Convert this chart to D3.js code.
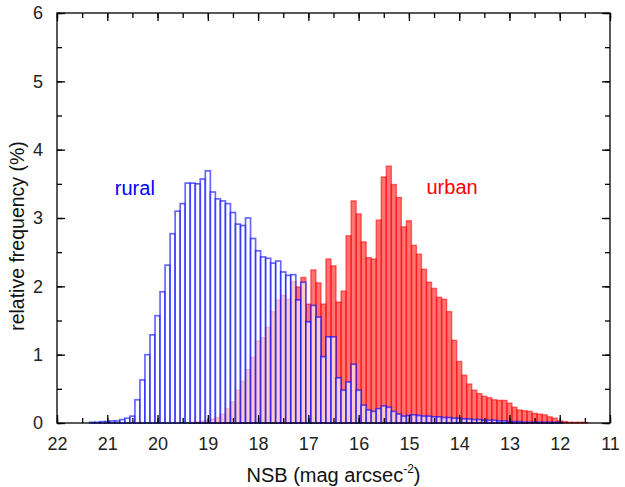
<!DOCTYPE html>
<html>
<head>
<meta charset="utf-8">
<script src="https://cdn.jsdelivr.net/npm/d3@7"></script>
<style>
  html, body { margin: 0; padding: 0; background: #fff; }
  svg { display: block; font-family: "Liberation Sans", Arial, sans-serif; }
</style>
</head>
<body>
<svg id="chart" width="625" height="487"></svg>
<script>
// NSB bin centres (mag arcsec^-2) and relative frequency (%)
const ruralBins = [21.3,21.2,21.1,21.0,20.9,20.8,20.7,20.6,20.5,20.4,20.3,20.2,20.1,20.0,
  19.9,19.8,19.7,19.6,19.5,19.4,19.3,19.2,19.1,19.0,18.9,18.8,18.7,18.6,18.5,18.4,18.3,18.2,18.1,18.0,
  17.9,17.8,17.7,17.6,17.5,17.4,17.3,17.2,17.1,17.0,16.9,16.8,16.7,16.6,16.5,16.4,16.3,16.2,16.1,16.0,
  15.9,15.8,15.7,15.6,15.5,15.4,15.3,15.2,15.1,15.0,14.9,14.8,14.7,14.6,14.5,14.4,14.3,14.2,14.1,14.0,
  13.9,13.8,13.7,13.6,13.5,13.4,13.3,13.2,13.1,13.0,12.9,12.8,12.7,12.6,12.5,12.4,12.3,12.2,12.1,12.0];
const ruralValues = [0.01,0.01,0.02,0.02,0.03,0.03,0.05,0.07,0.10,0.34,0.63,1.00,1.29,1.57,
  1.92,2.31,2.77,3.10,3.21,3.51,3.51,3.50,3.57,3.69,3.38,3.28,3.25,3.21,3.08,2.91,2.89,3.00,2.70,2.52,
  2.43,2.41,2.34,2.37,2.21,2.16,2.17,1.80,2.06,1.48,1.72,1.55,0.97,1.26,1.26,0.66,0.48,0.60,0.86,0.48,
  0.26,0.19,0.17,0.21,0.25,0.23,0.17,0.13,0.10,0.11,0.12,0.11,0.10,0.10,0.09,0.09,0.08,0.08,0.07,0.07,
  0.06,0.06,0.05,0.05,0.04,0.04,0.04,0.03,0.03,0.02,0.02,0.02,0.01,0.01,0.01,0.01,0.01,0.01,0.01,0.01];

const urbanBins = [19.3,19.2,19.1,19.0,18.9,18.8,18.7,18.6,18.5,18.4,18.3,18.2,18.1,18.0,
  17.9,17.8,17.7,17.6,17.5,17.4,17.3,17.2,17.1,17.0,16.9,16.8,16.7,16.6,16.5,16.4,16.3,16.2,16.1,16.0,
  15.9,15.8,15.7,15.6,15.5,15.4,15.3,15.2,15.1,15.0,14.9,14.8,14.7,14.6,14.5,14.4,14.3,14.2,14.1,14.0,
  13.9,13.8,13.7,13.6,13.5,13.4,13.3,13.2,13.1,13.0,12.9,12.8,12.7,12.6,12.5,12.4,12.3,12.2,12.1,12.0,
  11.9,11.8,11.7,11.6,11.5];
const urbanValues = [0.01,0.02,0.03,0.04,0.06,0.08,0.13,0.21,0.31,0.48,0.61,0.78,0.96,1.20,
  1.25,1.40,1.63,1.80,1.87,1.81,2.07,1.99,2.13,1.74,2.24,2.05,1.74,2.40,2.30,1.77,1.93,2.74,3.25,3.06,
  2.65,2.42,2.40,2.97,3.60,3.76,3.49,3.30,2.87,2.96,2.60,2.47,2.25,2.06,1.97,1.84,1.81,1.63,1.21,0.90,
  0.70,0.57,0.48,0.43,0.39,0.37,0.34,0.33,0.33,0.29,0.23,0.19,0.18,0.17,0.14,0.13,0.12,0.09,0.07,0.03,
  0.02,0.01,0.01,0.01,0.01];

const binWidth = 0.1;
const xMajorTicks = [22,21,20,19,18,17,16,15,14,13,12,11];
const yMajorTicks = [0,1,2,3,4,5,6];
const xTitle = "NSB (mag arcsec";
const xTitleSup = "-2";
const yTitle = "relative frequency (%)";
const seriesLabels = ["rural", "urban"];

const svg = d3.select("#chart");
const m = {left: 57, right: 610, top: 13, bottom: 423};

const x = d3.scaleLinear().domain([22, 11]).range([m.left, m.right]);
const y = d3.scaleLinear().domain([0, 6]).range([m.bottom, m.top]);

const rural = ruralBins.map((b, i) => ({b, v: ruralValues[i]}));
const urban = urbanBins.map((b, i) => ({b, v: urbanValues[i]}));

const plot = svg.append("g");

function drawBars(data, fill, fillOp, stroke, strokeOp, sw) {
  plot.append("g").selectAll("rect").data(data).join("rect")
    .attr("x", d => x(d.b + binWidth / 2))
    .attr("width", d => x(d.b - binWidth / 2) - x(d.b + binWidth / 2))
    .attr("y", d => y(d.v))
    .attr("height", d => y(0) - y(d.v))
    .attr("fill", fill).attr("fill-opacity", fillOp)
    .attr("stroke", stroke).attr("stroke-opacity", strokeOp)
    .attr("stroke-width", sw);
}
drawBars(urban, "#ff0000", 0.55, "#ff0000", 0.55, 1.4);
drawBars(rural, "#ffffff", 0.62, "#0000ff", 0.6, 1.7);

// Axes
const minorX = d3.range(22, 10.9, -0.5);
const minorY = d3.range(0, 6.01, 0.5);
const xFmt = d3.format("d");

const axB = d3.axisBottom(x).tickValues(xMajorTicks).tickFormat(xFmt).tickSizeInner(-8).tickSizeOuter(0).tickPadding(14);
const axT = d3.axisTop(x).tickValues(xMajorTicks).tickFormat("").tickSizeInner(-8).tickSizeOuter(0);
const axL = d3.axisLeft(y).tickValues(yMajorTicks).tickFormat(xFmt).tickSizeInner(-8).tickSizeOuter(0).tickPadding(14);
const axR = d3.axisRight(y).tickValues(yMajorTicks).tickFormat("").tickSizeInner(-8).tickSizeOuter(0);

const mAxB = d3.axisBottom(x).tickValues(minorX).tickFormat("").tickSizeInner(-5).tickSizeOuter(0);
const mAxT = d3.axisTop(x).tickValues(minorX).tickFormat("").tickSizeInner(-5).tickSizeOuter(0);
const mAxL = d3.axisLeft(y).tickValues(minorY).tickFormat("").tickSizeInner(-5).tickSizeOuter(0);
const mAxR = d3.axisRight(y).tickValues(minorY).tickFormat("").tickSizeInner(-5).tickSizeOuter(0);

function addAxis(ax, tx, ty) {
  const g = svg.append("g").attr("transform", `translate(${tx},${ty})`).call(ax);
  g.select(".domain").remove();
  g.selectAll("line").attr("stroke", "#000").attr("stroke-width", 1.3);
  g.selectAll("text").attr("font-size", 18).attr("fill", "#222")
    .attr("font-family", "Liberation Sans, Arial, sans-serif");
  return g;
}
addAxis(mAxB, 0, m.bottom);
addAxis(mAxT, 0, m.top);
addAxis(mAxL, m.left, 0);
addAxis(mAxR, m.right, 0);
addAxis(axB, 0, m.bottom);
addAxis(axT, 0, m.top);
addAxis(axL, m.left, 0);
addAxis(axR, m.right, 0);

// frame
svg.append("rect")
  .attr("x", m.left).attr("y", m.top)
  .attr("width", m.right - m.left).attr("height", m.bottom - m.top)
  .attr("fill", "none").attr("stroke", "#000").attr("stroke-width", 1.3);

// titles
const xt = svg.append("text")
  .attr("x", (m.left + m.right) / 2).attr("y", 482)
  .attr("text-anchor", "middle").attr("font-size", 20).attr("fill", "#111");
xt.append("tspan").text(xTitle);
xt.append("tspan").text(xTitleSup).attr("font-size", 12).attr("dy", -9);
xt.append("tspan").text(")").attr("dy", 9);

svg.append("text")
  .attr("transform", `translate(24,236) rotate(-90)`)
  .attr("text-anchor", "middle").attr("font-size", 19.5).attr("fill", "#111")
  .text(yTitle);

// series labels
svg.append("text").attr("x", x(20.85)).attr("y", 195)
  .attr("font-size", 20).attr("fill", "#0000ff").text(seriesLabels[0]);
svg.append("text").attr("x", x(14.65)).attr("y", 194)
  .attr("font-size", 20).attr("fill", "#ff0000").text(seriesLabels[1]);
</script>
</body>
</html>
